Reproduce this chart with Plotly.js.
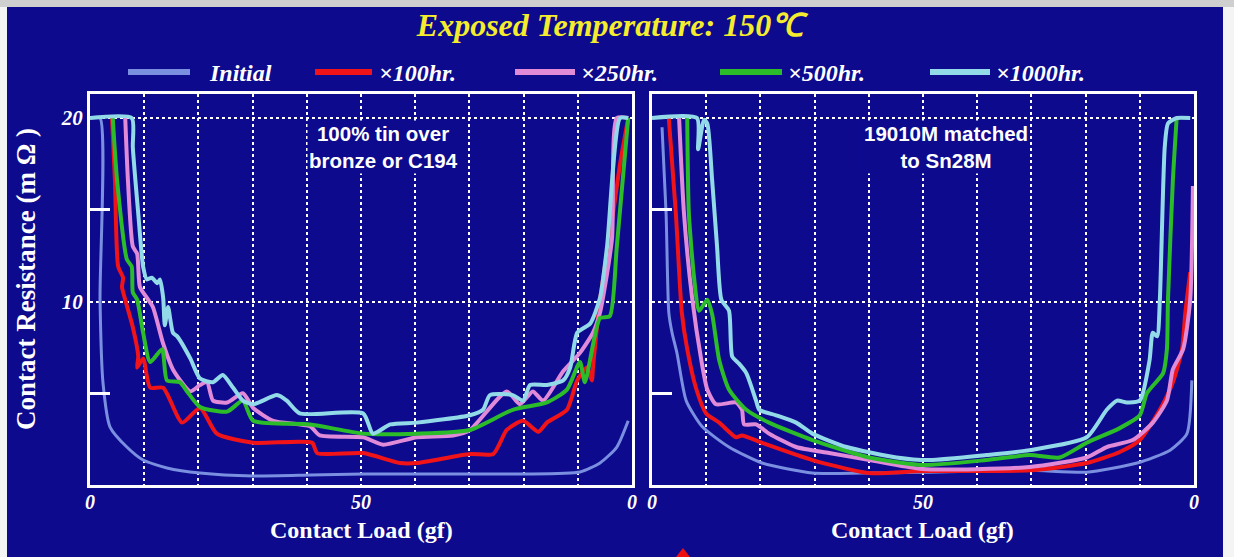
<!DOCTYPE html>
<html><head><meta charset="utf-8">
<script src="https://cdn.plot.ly/plotly-3.0.1.min.js"></script>
<style>html,body{margin:0;padding:0;background:#f4f4f4;overflow:hidden}#chart{width:1234px;height:557px}</style>
</head><body><div id="chart"></div>
<script>
// ---- series names / colours ----
const seriesNames = ['Initial', '×100hr.', '×250hr.', '×500hr.', '×1000hr.'];
const seriesColors = ['#7a8fe0', '#f01418', '#e08ad8', '#2cbc2a', '#92dae8'];
const panelLabels = ['100% tin over<br>bronze or C194', '19010M matched<br>to Sn28M'];
const xTitle = 'Contact Load (gf)';
const yTitle = 'Contact Resistance (m Ω )';
const xTickVals = [0, 50, 100];
const xTickText = ['0', '50', '0'];
const yTickVals = [0, 10, 20];
const yTickText = ['', '10', '20'];

// ---- left panel (100% tin over bronze or C194) ----
const xL_Initial = [0, 1.85, 1.85, 2.4, 3.7, 6.8, 9.8, 14.2, 20.3, 30.1, 40.6, 50.4, 60.3, 70.1, 79.9, 90.4, 94.1, 97.2, 99.3];
const yL_Initial = [20, 20, 10.1, 5.56, 3.16, 2.07, 1.36, 0.93, 0.65, 0.49, 0.54, 0.6, 0.6, 0.6, 0.6, 0.71, 1.2, 2.07, 3.5];
const xL_100 = [4.06, 4.6, 5.2, 6.1, 5.9, 6.5, 7.9, 8.9, 8.7, 9.8, 11.1, 13.5, 17.0, 20.3, 23.4, 30.1, 41.0, 41.9, 50.4, 57.2, 60.3, 70.1, 74.4, 76.9, 79.9, 82.7, 84.3, 88.0, 89.9, 91.7, 92.6, 92.8, 94.1, 96.5, 97.8, 99.3];
const yL_100 = [20, 16.6, 11.9, 11.3, 10.8, 10.1, 8.6, 7.0, 6.4, 6.9, 5.3, 5.3, 3.4, 4.2, 2.8, 2.3, 2.3, 1.74, 1.74, 1.2, 1.2, 1.69, 1.69, 3.0, 3.5, 2.9, 3.4, 4.1, 5.7, 6.4, 5.7, 6.4, 10.1, 14.8, 17.5, 20];
const xL_250 = [6.5, 7.0, 7.9, 8.7, 9.2, 10.5, 11.6, 13.5, 15.3, 18.5, 20.3, 21.6, 22.7, 25.3, 28.2, 30.1, 33.8, 40.6, 42.4, 50.4, 54.1, 60.3, 67.0, 70.1, 76.9, 79.3, 81.7, 83.6, 87.3, 90.4, 92.8, 94.1, 96.3, 97.2, 99.3];
const yL_250 = [20, 16.6, 13.0, 12.6, 10.8, 10.2, 9.7, 7.7, 6.3, 5.1, 5.45, 5.6, 4.6, 4.5, 5.0, 4.2, 3.5, 3.2, 2.7, 2.6, 2.2, 2.6, 2.7, 3.0, 5.1, 4.4, 5.1, 4.6, 6.2, 7.2, 8.3, 9.4, 13.4, 20, 20];
const xL_500 = [4.2, 5.0, 6.8, 7.7, 7.9, 8.7, 9.8, 11.1, 13.3, 14.2, 16.6, 17.9, 20.3, 25.3, 28.2, 30.1, 40.6, 50.4, 60.3, 70.1, 78.0, 84.3, 88.0, 90.4, 91.3, 94.1, 95.9, 97.2, 99.3];
const yL_500 = [20, 16.6, 12.3, 11.9, 10.5, 10.1, 8.3, 6.7, 7.4, 5.7, 5.6, 5.1, 4.25, 4.0, 4.6, 3.5, 3.3, 2.8, 2.8, 3.0, 4.1, 4.5, 5.2, 6.7, 5.6, 9.1, 9.2, 13.0, 20];
const xL_1000 = [0, 7.7, 7.9, 8.9, 9.8, 10.5, 11.4, 12.4, 12.9, 13.5, 13.8, 14.4, 15.3, 16.1, 18.5, 20.3, 22.7, 24.5, 26.4, 28.2, 30.1, 34.5, 36.3, 38.7, 50.4, 52.2, 55.4, 60.3, 70.1, 72.5, 73.8, 78.0, 79.9, 81.2, 84.3, 87.3, 88.6, 89.9, 92.3, 94.1, 95.4, 97.8, 99.3];
const yL_1000 = [20, 20, 18.4, 14.8, 11.9, 11.2, 11.3, 11.0, 11.2, 10.2, 8.7, 9.7, 8.3, 8.1, 6.9, 5.8, 5.6, 6.0, 5.3, 4.6, 4.4, 4.9, 4.6, 3.9, 3.9, 2.8, 3.3, 3.4, 3.8, 4.1, 4.9, 4.9, 4.6, 5.45, 5.45, 5.7, 6.4, 8.3, 8.8, 10.2, 13.0, 20, 20];

// ---- right panel (19010M matched to Sn28M) ----
const xR_Initial = [1.85, 2.6, 3.1, 3.7, 4.6, 6.3, 9.2, 14.2, 20.3, 29.6, 38.8, 49.9, 69.7, 80.2, 89.5, 95.6, 98.7, 99.6];
const yR_Initial = [19.5, 14.8, 9.4, 8.3, 7.2, 4.6, 3.2, 2.07, 1.2, 0.65, 0.65, 0.7, 0.8, 0.7, 1.2, 1.9, 2.8, 5.7];
const xR_100 = [3.1, 4.4, 5.5, 6.5, 8.1, 10.0, 12.4, 15.5, 16.6, 20.3, 29.6, 40.1, 49.9, 69.7, 80.2, 86.3, 90.0, 93.7, 96.1, 97.8, 98.4, 99.3];
const yR_100 = [20, 14.8, 9.4, 7.4, 5.3, 3.9, 3.4, 2.6, 2.7, 2.3, 1.36, 0.65, 0.76, 0.8, 1.2, 1.8, 2.45, 4.1, 5.6, 7.4, 9.4, 11.6];
const xR_250 = [5.0, 5.9, 7.4, 9.1, 10.2, 11.8, 15.5, 16.6, 17.0, 19.2, 21.6, 26.6, 32.7, 40.1, 49.9, 69.7, 80.2, 83.9, 88.7, 92.4, 95.0, 96.1, 98.0, 99.3, 99.8];
const yR_250 = [20, 14.8, 10.2, 6.8, 5.2, 4.4, 4.5, 4.1, 3.3, 3.3, 2.8, 2.07, 1.74, 1.36, 0.87, 0.98, 1.5, 2.07, 2.45, 3.4, 4.6, 6.3, 7.4, 10.1, 16.3];
const xR_500 = [6.5, 6.8, 7.8, 8.7, 10.2, 11.1, 12.4, 14.2, 17.4, 21.6, 29.6, 40.1, 49.9, 61.7, 69.7, 75.2, 80.2, 86.3, 90.0, 91.3, 94.3, 95.0, 95.2, 96.1, 96.8];
const yR_500 = [20, 14.8, 11.2, 9.5, 10.1, 9.3, 6.8, 5.2, 4.1, 3.4, 2.45, 1.5, 1.09, 1.36, 1.63, 1.5, 2.3, 3.1, 3.8, 5.0, 6.1, 7.4, 10.1, 16.6, 20];
const xR_1000 = [0, 8.3, 8.5, 9.6, 10.2, 11.1, 12.0, 12.8, 14.2, 14.8, 16.1, 17.4, 19.2, 19.8, 22.9, 26.6, 29.6, 35.9, 45.1, 51.2, 61.7, 69.7, 80.2, 83.9, 85.8, 87.6, 90.0, 91.8, 92.4, 93.2, 93.7, 94.6, 95.2, 96.8, 99.3];
const yR_1000 = [20, 20, 18.3, 19.9, 19.7, 16.6, 13.0, 10.1, 9.5, 7.0, 6.6, 6.1, 4.6, 4.1, 3.8, 3.4, 2.8, 2.07, 1.5, 1.36, 1.63, 1.9, 2.6, 4.1, 4.6, 4.5, 4.6, 6.8, 8.3, 8.1, 10.1, 18.4, 19.7, 20, 20];

// ---- build traces ----
const leftX = [xL_Initial, xL_100, xL_250, xL_500, xL_1000];
const leftY = [yL_Initial, yL_100, yL_250, yL_500, yL_1000];
const rightX = [xR_Initial, xR_100, xR_250, xR_500, xR_1000];
const rightY = [yR_Initial, yR_100, yR_250, yR_500, yR_1000];

const traces = [];
[[leftX, leftY, 'x', 'y'], [rightX, rightY, 'x2', 'y2']].forEach(([XS, YS, xa, ya]) => {
  seriesNames.forEach((name, i) => {
    traces.push({
      type: 'scatter', mode: 'lines', name: name,
      x: XS[i], y: YS[i], xaxis: xa, yaxis: ya,
      line: {color: seriesColors[i], width: i === 0 ? 3 : 4, shape: 'spline', smoothing: 0.6},
      showlegend: false, hoverinfo: 'skip'
    });
  });
});

const W = 1234, H = 557;
const BG = '#0d0a8e';
const serif = 'Liberation Serif, Times New Roman, serif';
const fx = p => p / W, fy = p => 1 - p / H;

const xAxisBase = {
  range: [0, 100], showline: true, mirror: true, linecolor: '#ffffff', linewidth: 3,
  showgrid: true, gridcolor: '#ffffff', gridwidth: 2, griddash: '3px,3px', zeroline: false,
  tickmode: 'array', tickvals: xTickVals, ticktext: xTickText, ticks: '', ticklabelstandoff: -3,
  tickfont: {family: serif, size: 20, color: '#ffffff', weight: 'bold', style: 'italic'},
  minor: {dtick: 10, showgrid: true, gridcolor: '#ffffff', gridwidth: 2, griddash: '3px,3px', ticks: ''},
  fixedrange: true
};
const yAxisBase = {
  range: [0, 21.31], domain: [fy(485), fy(94)], showline: true, mirror: true, linecolor: '#ffffff', linewidth: 3,
  showgrid: true, gridcolor: '#ffffff', gridwidth: 2, griddash: '3px,3px', zeroline: false,
  tickmode: 'array', tickvals: yTickVals, ticktext: yTickText, ticks: '',
  tickfont: {family: serif, size: 21, color: '#ffffff', weight: 'bold', style: 'italic'},
  minor: {tickmode: 'array', tickvals: [5, 15], ticks: 'inside', ticklen: 20, tickwidth: 3, tickcolor: '#ffffff', showgrid: false},
  fixedrange: true
};

const shapes = [
  {type: 'rect', xref: 'paper', yref: 'paper', x0: fx(7), x1: fx(1223), y0: 0, y1: fy(7), fillcolor: BG, line: {width: 0}, layer: 'below'},
  {type: 'rect', xref: 'paper', yref: 'paper', x0: 0, x1: 1, y0: fy(7), y1: 1, fillcolor: '#cfcfcf', line: {width: 0}, layer: 'below'},
  {type: 'path', xref: 'paper', yref: 'paper', path: `M ${fx(676)} ${fy(557)} L ${fx(683)} ${fy(548)} L ${fx(690)} ${fy(557)} Z`,
    fillcolor: '#ee1010', line: {width: 0}}
];
const annotations = [];
// custom legend (line sample + label)
const legLine = [[128, 190], [315, 372], [515, 575], [720, 782], [930, 990]];
const legText = [207, 377, 579, 786, 994];
seriesNames.forEach((name, i) => {
  shapes.push({type: 'line', xref: 'paper', yref: 'paper', x0: fx(legLine[i][0]), x1: fx(legLine[i][1]), y0: fy(72), y1: fy(72),
    line: {color: seriesColors[i], width: 6}});
  annotations.push({xref: 'paper', yref: 'paper', x: fx(legText[i]), y: fy(73), xanchor: 'left', yanchor: 'middle',
    text: name, showarrow: false, font: {family: serif, size: 24, color: '#ffffff', weight: 'bold', style: 'italic'}});
});
// panel labels
panelLabels.forEach((t, i) => {
  annotations.push({xref: i === 0 ? 'x' : 'x2', yref: i === 0 ? 'y' : 'y2', x: 54.2, y: 18.4, xanchor: 'center', yanchor: 'middle',
    text: t, showarrow: false, bgcolor: BG, borderpad: 1,
    font: {family: 'Liberation Sans, Arial, sans-serif', size: 20.5, color: '#ffffff', weight: 'bold'}});
});
// axis titles
[361, 922].forEach(cx => {
  annotations.push({xref: 'paper', yref: 'paper', x: fx(cx), y: fy(530), xanchor: 'center', yanchor: 'middle',
    text: xTitle, showarrow: false, font: {family: serif, size: 24, color: '#ffffff', weight: 'bold'}});
});
annotations.push({xref: 'paper', yref: 'paper', x: fx(26), y: fy(279), xanchor: 'center', yanchor: 'middle', textangle: -90,
  text: yTitle, showarrow: false, font: {family: serif, size: 27, color: '#ffffff', weight: 'bold'}});

const layout = {
  width: W, height: H, margin: {l: 0, r: 0, t: 0, b: 0},
  paper_bgcolor: '#f4f4f4', plot_bgcolor: BG, showlegend: false,
  title: {text: 'Exposed Temperature: 150℃', x: fx(610), y: fy(25), xanchor: 'center', yanchor: 'middle',
    font: {family: serif, size: 32, color: '#f4ec2c', weight: 'bold', style: 'italic'}},
  xaxis: Object.assign({}, xAxisBase, {domain: [fx(90), fx(632)], anchor: 'y'}),
  xaxis2: Object.assign({}, xAxisBase, {domain: [fx(652), fx(1194)], anchor: 'y2'}),
  yaxis: Object.assign({}, yAxisBase, {anchor: 'x'}),
  yaxis2: Object.assign({}, yAxisBase, {anchor: 'x2', showticklabels: false}),
  shapes: shapes, annotations: annotations
};

Plotly.newPlot('chart', traces, layout, {displayModeBar: false, staticPlot: true});
</script></body></html>
